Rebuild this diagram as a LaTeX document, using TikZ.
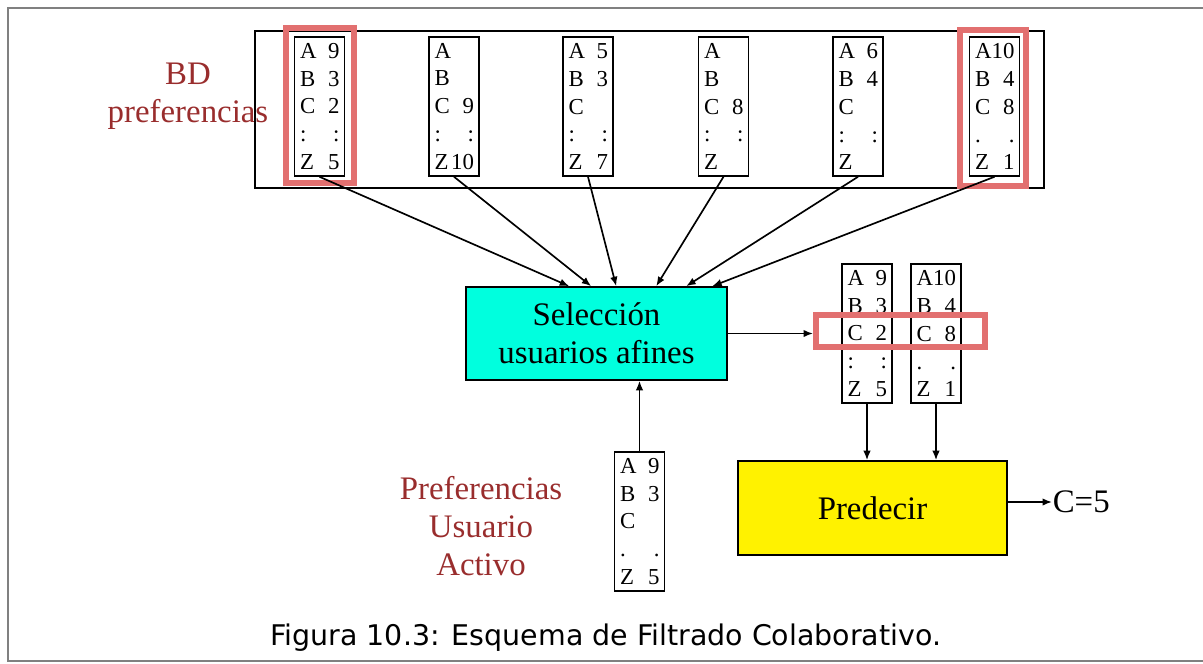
\documentclass[tikz,border=0pt]{standalone}
\usepackage{fontspec}
\setmainfont{Liberation Serif}
\newfontfamily\capfont{DejaVu Sans}
\usepackage{tikz}
\usetikzlibrary{arrows.meta}
\definecolor{hlred}{RGB}{226,112,112}
\definecolor{lblred}{RGB}{153,45,45}
\definecolor{selcyan}{RGB}{0,255,222}
\definecolor{framegray}{RGB}{128,128,128}
\tikzstyle{flow}=[line width=0.95pt,-{Latex[length=1.9mm,width=1.5mm]}]
\tikzstyle{prefs}=[rectangle, draw, line width=0.9pt, fill=white, minimum width=1cm, minimum height=2.78cm, text width=0.78cm, inner xsep=0.11cm, inner ysep=0pt, align=left, font=\fontsize{13}{15.9}\selectfont]
\tikzstyle{hl}=[rectangle, draw=hlred, line width=0.12cm, inner sep=0pt]
\tikzstyle{proc}=[rectangle, draw, line width=0.9pt, inner sep=0pt, align=center, font=\fontsize{18.7}{21.8}\selectfont]
\tikzstyle{lbl}=[align=center, text=lblred, font=\fontsize{18.7}{21.8}\selectfont]
\newcommand{\rw}[2]{\leavevmode\hbox to 0.79cm{#1\hfil#2}}

\begin{document}
\begin{tikzpicture}[x=0.02cm,y=-0.02cm]
				\useasboundingbox (0,0) rectangle (1203,663);
				\draw[framegray, line width=1.1pt] (8,8) rectangle (1240,661);
				
				%The database
				\draw (188,96) node[lbl] (bdlbl) {BD\\preferencias};
				\draw (649.5,109.5) node[draw, line width=0.9pt, minimum width=15.78cm, minimum height=3.14cm] (bd) {};
				
				\draw (319.5,106.5) node[prefs] (b1) {\rw{A}{9}\\\rw{B}{3}\\\rw{C}{2}\\\rw{:}{:}\\\rw{Z}{5}};
				\draw (454,106.5) node[prefs] (b2) {\rw{A}{}\\\rw{B}{}\\\rw{C}{9}\\\rw{:}{:}\\\rw{Z}{10}};
				\draw (588,106.5) node[prefs] (b3) {\rw{A}{5}\\\rw{B}{3}\\\rw{C}{}\\\rw{:}{:}\\\rw{Z}{7}};
				\draw (723.5,106.5) node[prefs] (b4) {\rw{A}{}\\\rw{B}{}\\\rw{C}{8}\\\rw{:}{:}\\\rw{Z}{}};
				\draw (858,106.5) node[prefs] (b5) {\rw{A}{6}\\\rw{B}{4}\\\rw{C}{}\\\rw{:}{:}\\\rw{Z}{}};
				\draw (994.5,106.5) node[prefs] (b6) {\rw{A}{10}\\\rw{B}{4}\\\rw{C}{8}\\\rw{.}{.}\\\rw{Z}{1}};
				
				\draw (320,105.5) node[hl, minimum width=1.36cm, minimum height=3.1cm] (hl1) {};
				\draw (993,108) node[hl, minimum width=1.32cm, minimum height=3.12cm] (hl6) {};
				
				%Selection
				\draw (596.5,333.5) node[proc, fill=selcyan, minimum width=5.22cm, minimum height=1.86cm] (sel) {Selección\\usuarios afines};
				
				\foreach \b/\dx in {b1/2.08, b2/2.52, b3/3.02, b4/3.82, b5/4.42, b6/4.94}
					\draw[flow] (\b.south) -- ([xshift=\dx cm]sel.north west);
				
				%The active user
				\draw (481,526) node[lbl] (actlbl) {Preferencias\\Usuario\\Activo};
				\draw (639.5,521.5) node[prefs] (act) {\rw{A}{9}\\\rw{B}{3}\\\rw{C}{}\\\rw{.}{.}\\\rw{Z}{5}};
				\draw[flow] (act.north) -- (act.north |- sel.south);
				
				%The neighbours
				\draw (867,333.5) node[prefs] (b7) {\rw{A}{9}\\\rw{B}{3}\\\rw{C}{2}\\\rw{:}{:}\\\rw{Z}{5}};
				\draw (936,333.5) node[prefs] (b8) {\rw{A}{10}\\\rw{B}{4}\\\rw{C}{8}\\\rw{.}{.}\\\rw{Z}{1}};
				\draw (900.5,331) node[hl, minimum width=3.38cm, minimum height=0.64cm] (hl7) {};
				\draw[flow] (sel.east) -- (sel.east -| hl7.west);
				
				%Prediction
				\draw (872.5,508) node[proc, fill=yellow, minimum width=5.38cm, minimum height=1.88cm] (pred) {Predecir};
				\draw (1052,502) node[proc, draw=none, anchor=west] (res) {C=5};
				
				\draw[flow] (b7.south) -- (b7.south |- pred.north);
				\draw[flow] (b8.south) -- (b8.south |- pred.north);
				\draw[flow] (pred.east |- res.west) -- (res.west);
				
				%Caption
				\draw (270,638) node[anchor=west, inner sep=0pt, font=\capfont\fontsize{16.2}{18}\selectfont] (cap) {Figura 10.3: Esquema de Filtrado Colaborativo.};
			\end{tikzpicture}
\end{document}
